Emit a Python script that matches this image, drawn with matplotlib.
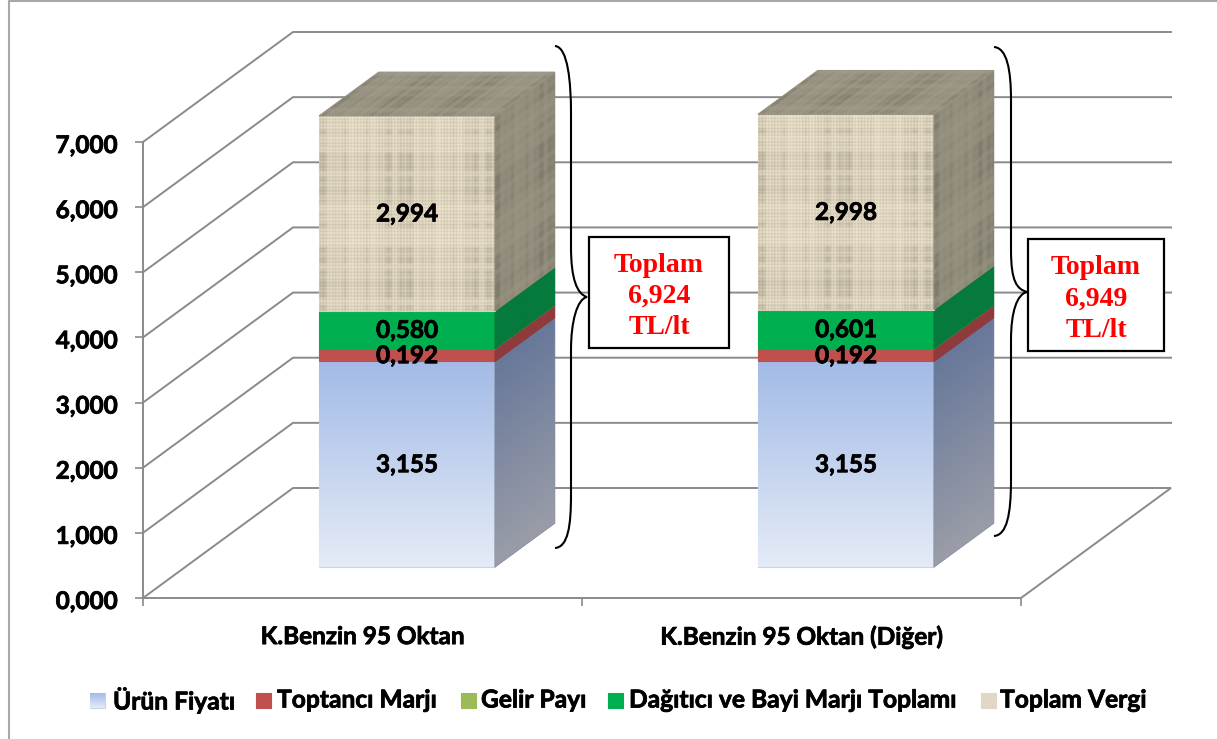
import numpy as np
import matplotlib; matplotlib.use("Agg")
import matplotlib.pyplot as plt
import matplotlib.patheffects as pe
from matplotlib.patches import PathPatch, Rectangle
from matplotlib.path import Path
from matplotlib.transforms import Affine2D
from matplotlib.ticker import FixedLocator, FuncFormatter

categories = ["K.Benzin 95 Oktan", "K.Benzin 95 Oktan (Diğer)"]
series_names = ["Ürün Fiyatı", "Toptancı Marjı", "Gelir Payı", "Dağıtıcı ve Bayi Marjı Toplamı", "Toplam Vergi"]
urun_fiyati = [3.155, 3.155]
toptanci_marji = [0.192, 0.192]
gelir_payi = [0.003, 0.003]
dagitici_marji = [0.580, 0.601]
toplam_vergi = [2.994, 2.998]
totals = [6.924, 6.949]
y_ticks = [0, 1, 2, 3, 4, 5, 6, 7]

GRID = "#8a8a8a"
W, H = 1217, 739
FONT = "Lato"
HEAVY = [pe.withStroke(linewidth=0.55, foreground="black")]
PX = Affine2D().scale(1, -1).translate(0, H)  # reference pixel coords -> display

# fake 3D: category units per unit of depth, value units per unit of depth
AX_L, AX_R, AX_T, AX_B = 143, 1021, 142, 598
DX = 150 / ((AX_R - AX_L) / 2)
DY = 110 / ((AX_B - AX_T) / 7)
BAR_W, D0, D1, BAR_OFF = 176 / 439, 0.282, 0.68, 0.005
UNIT = Path([(0, 0), (1, 0), (1, 1), (0, 1), (0, 0)], closed=True)


def proj(c, v, d):
    return c + d * DX, v + d * DY


def vgrad(top, bottom, n=64):
    top, bottom = np.array(matplotlib.colors.to_rgb(top)), np.array(matplotlib.colors.to_rgb(bottom))
    t = np.linspace(0, 1, n)[:, None]  # row 0 = bottom of the face
    return (bottom * (1 - t) + top * t)[:, None, :]


def linen(w, h, light, dark, fine=1.0):
    # woven look: straight threads with slubs along rows and columns, no data in here
    x, y = np.meshgrid(np.arange(w), np.arange(h))
    col = np.sin(x / 2.3) * np.sin(x / 7.1 + 0.7) + 0.6 * np.sin(x / 13.7 + 2.0)
    row = np.sin(y / 2.7 + 1.3) * np.sin(y / 5.9) + 0.6 * np.sin(y / 17.3)
    warp = np.sin(2 * np.pi * x / (3.1 * fine))
    weft = np.sin(2 * np.pi * y / (3.4 * fine))
    m = 0.3 + 0.13 * warp + 0.13 * weft + 0.28 * np.clip(col, 0, 1) * np.clip(row + 0.4, 0, 1) + 0.1 * col + 0.1 * row
    m = np.clip(m, 0, 1)[..., None]
    return np.array(matplotlib.colors.to_rgb(light)) * (1 - m) + np.array(matplotlib.colors.to_rgb(dark)) * m


def face(ax, img, p0, pu, pv, zorder, base=None):
    # stretches an image onto the parallelogram p0, p0+pu, p0+pv
    base = ax.transData if base is None else base
    tr = Affine2D.from_values(pu[0], pu[1], pv[0], pv[1], p0[0], p0[1]) + base
    # plain patch underneath so the aliased clip edge leaves no white seam
    mean = img.reshape(-1, 3).mean(axis=0)
    ax.add_patch(PathPatch(UNIT, fc=mean, ec=mean, lw=0.8, transform=tr, clip_on=False, zorder=zorder))
    rgba = np.dstack([img, np.ones(img.shape[:2])])
    im = ax.imshow(rgba, extent=(0, 1, 0, 1), origin="lower", aspect="auto", transform=tr,
                   interpolation="bilinear", zorder=zorder)
    im.set_clip_box(ax.figure.bbox)
    im.set_clip_path(UNIT, tr)


def brace(ax, sx, sy, xs, y1, y2, tx, ty, y3, y4, ey):
    verts = [(sx, sy), (sx + 13, sy + 1), (xs, y1 - 30), (xs, y1), (xs, y2),
             (xs, y2 + 32), (tx - 10, ty - 3), (tx, ty),
             (tx - 10, ty + 2), (xs, y3 - 28), (xs, y3), (xs, y4),
             (xs, ey - 22), (sx + 13, ey - 1), (sx, ey)]
    codes = [Path.MOVETO] + [Path.CURVE4] * 3 + [Path.LINETO] + [Path.CURVE4] * 6 + [Path.LINETO] + [Path.CURVE4] * 3
    ax.add_patch(PathPatch(Path(verts, codes), fc="none", ec="black", lw=1.5, transform=PX, clip_on=False, zorder=8))


fig = plt.figure(figsize=(W / 100, H / 100), dpi=100, facecolor="white")
ax = fig.add_axes([AX_L / W, 1 - AX_B / H, (AX_R - AX_L) / W, (AX_B - AX_T) / H])
ax.patch.set_alpha(0)

# walls and floor
for v in y_ticks:
    pts = [proj(-0.5, v, 0), proj(-0.5, v, 1), proj(1.5, v, 1)]
    if v == 0:
        pts += [proj(1.5, 0, 0)]
    ax.plot(*zip(*pts), color=GRID, lw=1.4, clip_on=False, zorder=1, solid_joinstyle="miter")

stack = [urun_fiyati, toptanci_marji, gelir_payi, dagitici_marji, toplam_vergi]
front = [vgrad("#A3BBE6", "#E4EBF7"), vgrad("#C0504D", "#C0504D", 2), vgrad("#9BBB59", "#9BBB59", 2),
         vgrad("#00B050", "#00B050", 2), linen(176, 196, "#EBE1CA", "#B5AD9A")]
side = [vgrad("#68789A", "#9A9DA8"), vgrad("#8F3A3C", "#8F3A3C", 2), vgrad("#6F8A3A", "#6F8A3A", 2),
        vgrad("#067A3C", "#067A3C", 2), linen(90, 230, "#9C9785", "#787466", 0.8)]
top_tex = linen(240, 70, "#A5A08E", "#7F7A6A", 0.9)

for i in range(len(categories)):
    left = i + BAR_OFF - BAR_W / 2
    bottom = 0.0
    for k, vals in enumerate(stack):
        v = vals[i]
        p = proj(left, bottom, D0)
        r = proj(left + BAR_W, bottom, D0)
        face(ax, front[k], p, (BAR_W, 0), (0, v), 3 + k * 0.1)
        back = proj(left + BAR_W, bottom, D1)
        face(ax, side[k], r, (back[0] - r[0], back[1] - r[1]), (0, v), 3 + k * 0.1)
        if v > 0.01:
            txt = f"{v:.3f}".replace(".", ",")
            ax.annotate(txt, (p[0] + BAR_W / 2, p[1] + v / 2), xytext=(0, 1.1), textcoords="offset points",
                        ha="center", va="center_baseline", fontsize=17.5,
                        family=FONT, weight="bold", color="black", zorder=7, path_effects=HEAVY)
        bottom += v
    p = proj(left, bottom, D0)
    q = proj(left, bottom, D1)
    face(ax, top_tex, p, (BAR_W, 0), (q[0] - p[0], q[1] - p[1]), 4)

# braces and total boxes
brace(ax, 555, 46, 571, 113, 247, 587, 297, 350, 495, 548)
brace(ax, 994, 47, 1011, 100, 250, 1027, 292, 340, 480, 536)
boxes = [(589, 237, 140, 111), (1028, 239, 136, 112)]
for (bx, by, bw, bh), t in zip(boxes, totals):
    ax.add_patch(Rectangle((bx, by), bw, bh, fc="white", ec="black", lw=1.6, transform=PX, clip_on=False, zorder=9))
    ax.text(bx + bw / 2, by + bh / 2 + 4, "Toplam\n" + f"{t:.3f}".replace(".", ",") + "\nTL/lt", transform=PX,
            ha="center", va="center", color="#FF0000", fontsize=20, family="Liberation Serif",
            weight="bold", linespacing=1.33, zorder=10)

# axes
ax.set_xlim(-0.5, 1.5)
ax.set_ylim(0, 7)
for s in ["top", "right"]:
    ax.spines[s].set_visible(False)
for s in ["left", "bottom"]:
    ax.spines[s].set_color(GRID)
    ax.spines[s].set_linewidth(1.4)
    ax.spines[s].set_zorder(2)
ax.set_yticks(y_ticks)
ax.yaxis.set_major_formatter(FuncFormatter(lambda v, _: f"{v:.3f}".replace(".", ",")))
ax.tick_params(axis="y", length=6, width=1.2, color=GRID, pad=12.5)
ax.set_xticks(range(len(categories)), categories)
ax.xaxis.set_minor_locator(FixedLocator([-0.5, 0.5, 1.5]))
ax.tick_params(axis="x", which="major", length=0, pad=19.5)
ax.tick_params(axis="x", which="minor", length=6, width=1.2, color=GRID)
for tl in ax.get_xticklabels() + ax.get_yticklabels():
    tl.set_family(FONT); tl.set_weight("bold"); tl.set_fontsize(17.5); tl.set_color("black")
    tl.set_path_effects(HEAVY)
for tl in ax.get_yticklabels():
    tl.set_transform(tl.get_transform() + Affine2D().translate(0, -1.5))

# legend, laid out by hand because two keys carry gradients/texture
leg_x = [(90, 113), (256, 277), (461, 481), (608, 629), (981, 1000)]
leg_img = [vgrad("#A3BBE6", "#E4EBF7"), vgrad("#C0504D", "#C0504D", 2), vgrad("#9BBB59", "#9BBB59", 2),
           vgrad("#00B050", "#00B050", 2), vgrad("#E0D8C4", "#E0D8C4", 2)]
for (hx, tx), name, img in zip(leg_x, series_names, leg_img):
    face(ax, img, (hx, 708), (15, 0), (0, -15), 5, base=PX)
    ax.text(tx, 700, name, transform=PX, ha="left", va="center", fontsize=17.7, family=FONT, weight="bold",
            color="black", path_effects=HEAVY)

# chart frame
ax.plot([9, 9, W], [H, 0.5, 0.5], color="#a8a8a8", lw=1.5, transform=PX, clip_on=False, zorder=0)
ax.set_xlim(-0.5, 1.5)
ax.set_ylim(0, 7)

plt.savefig("out.png", dpi=100, facecolor="white")
plt.close()
